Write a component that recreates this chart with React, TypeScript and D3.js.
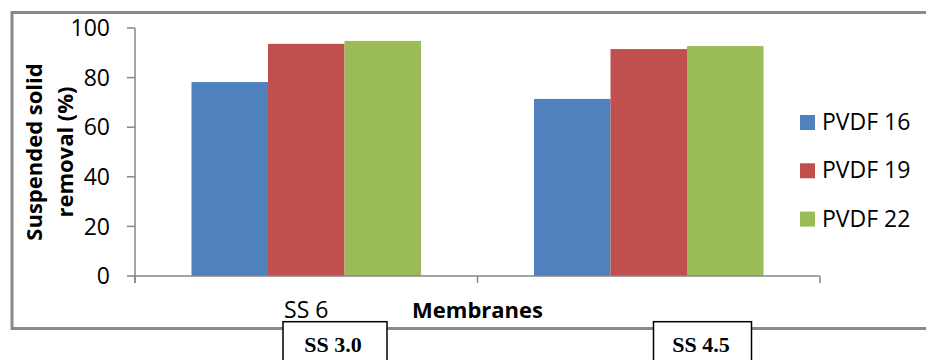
import React from "react";
import * as d3 from "d3";

// Membrane groups on the x axis and the three PVDF series
const categories = ["SS 6", ""];
const seriesNames = ["PVDF 16", "PVDF 19", "PVDF 22"];
const pvdf16 = [78.2, 71.4];
const pvdf19 = [93.6, 91.5];
const pvdf22 = [94.8, 92.7];
const yTicks = [0, 20, 40, 60, 80, 100];
const boxLabels = ["SS 3.0", "SS 4.5"];

const seriesValues = [pvdf16, pvdf19, pvdf22];
const colors = ["#4F81BD", "#C0504D", "#9BBB59"];

const W = 927;
const H = 360;
const SANS = "'Open Sans', Calibri, sans-serif";
const SERIF = "'Liberation Serif', 'Times New Roman', serif";
const AXIS = "#868686";

export default function App() {
  const x = d3
    .scaleBand<string>()
    .domain(categories.map((c, i) => String(i)))
    .range([135, 820])
    .paddingInner(0.33)
    .paddingOuter(0.165);
  const xs = d3
    .scaleBand<string>()
    .domain(seriesNames)
    .range([0, x.bandwidth()]);
  const y = d3.scaleLinear().domain([0, 100]).range([276, 28]);

  const [x0, x1] = x.range();
  const boundaries = d3.range(categories.length + 1).map((i) => x0 + i * x.step());
  const [yBottom, yTop] = y.range();

  // annotation boxes under the chart frame
  const boxes = [
    { left: 283, right: 387, cx: 333 },
    { left: 653.5, right: 751.5, cx: 701 },
  ];

  return (
    <svg
      width={W}
      height={H}
      style={{ position: "absolute", left: 0, top: 0, display: "block" }}
      fontFamily={SANS}
    >
      <rect x={0} y={0} width={W} height={H} fill="#fff" />

      {/* chart frame */}
      <path
        d={`M926,12.5H12V328.5H926`}
        fill="none"
        stroke="#8a8a8a"
        strokeWidth={3}
      />

      {/* bars */}
      {categories.map((c, ci) =>
        seriesNames.map((s, si) => {
          const v = seriesValues[si][ci];
          const bx = (x(String(ci)) ?? 0) + (xs(s) ?? 0);
          return (
            <rect
              key={`${ci}-${si}`}
              x={bx}
              y={y(v)}
              width={xs.bandwidth()}
              height={y(0) - y(v)}
              fill={colors[si]}
            />
          );
        })
      )}

      {/* y axis */}
      <line x1={x0} x2={x0} y1={yTop} y2={yBottom + 7} stroke={AXIS} strokeWidth={1.5} />
      {yTicks.map((t) => (
        <g key={t}>
          <line x1={x0 - 8} x2={x0} y1={y(t)} y2={y(t)} stroke={AXIS} strokeWidth={1.5} />
          <text
            x={110}
            y={y(t)}
            dy="0.36em"
            textAnchor="end"
            fontSize={23}
            fill="#000"
          >
            {t}
          </text>
        </g>
      ))}

      {/* x axis */}
      <line x1={x0} x2={x1} y1={yBottom} y2={yBottom} stroke={AXIS} strokeWidth={1.5} />
      {boundaries.map((b, i) => (
        <line key={i} x1={b} x2={b} y1={yBottom} y2={yBottom + 7} stroke={AXIS} strokeWidth={1.5} />
      ))}
      {categories.map((c, ci) => (
        <text
          key={ci}
          x={(x(String(ci)) ?? 0) + x.bandwidth() / 2}
          y={318}
          textAnchor="middle"
          fontSize={23}
          fill="#000"
        >
          {c}
        </text>
      ))}

      {/* axis titles */}
      <text
        x={(x0 + x1) / 2}
        y={318}
        textAnchor="middle"
        fontSize={22}
        fontWeight="bold"
        fill="#000"
      >
        Membranes
      </text>
      <g transform={`translate(42, ${(yTop + yBottom) / 2}) rotate(-90)`}>
        <text x={0} y={0} textAnchor="middle" fontSize={22} fontWeight="bold" fill="#000">
          Suspended solid
        </text>
        <text x={0} y={31} textAnchor="middle" fontSize={22} fontWeight="bold" fill="#000">
          removal (%)
        </text>
      </g>

      {/* legend */}
      {seriesNames.map((s, i) => (
        <g key={s} transform={`translate(800, ${115 + i * 48.3})`}>
          <rect x={0} y={0} width={15} height={15} fill={colors[i]} />
          <text x={22} y={15} fontSize={23} fill="#000">
            {s}
          </text>
        </g>
      ))}

      {/* labelled boxes */}
      {boxes.map((b, i) => (
        <g key={i}>
          <rect
            x={b.left}
            y={321.7}
            width={b.right - b.left}
            height={60}
            fill="#fff"
            stroke="#000"
            strokeWidth={1.5}
          />
          <text
            x={b.cx}
            y={352}
            textAnchor="middle"
            fontFamily={SERIF}
            fontWeight="bold"
            fontSize={22}
            fill="#000"
          >
            {boxLabels[i]}
          </text>
        </g>
      ))}
    </svg>
  );
}
